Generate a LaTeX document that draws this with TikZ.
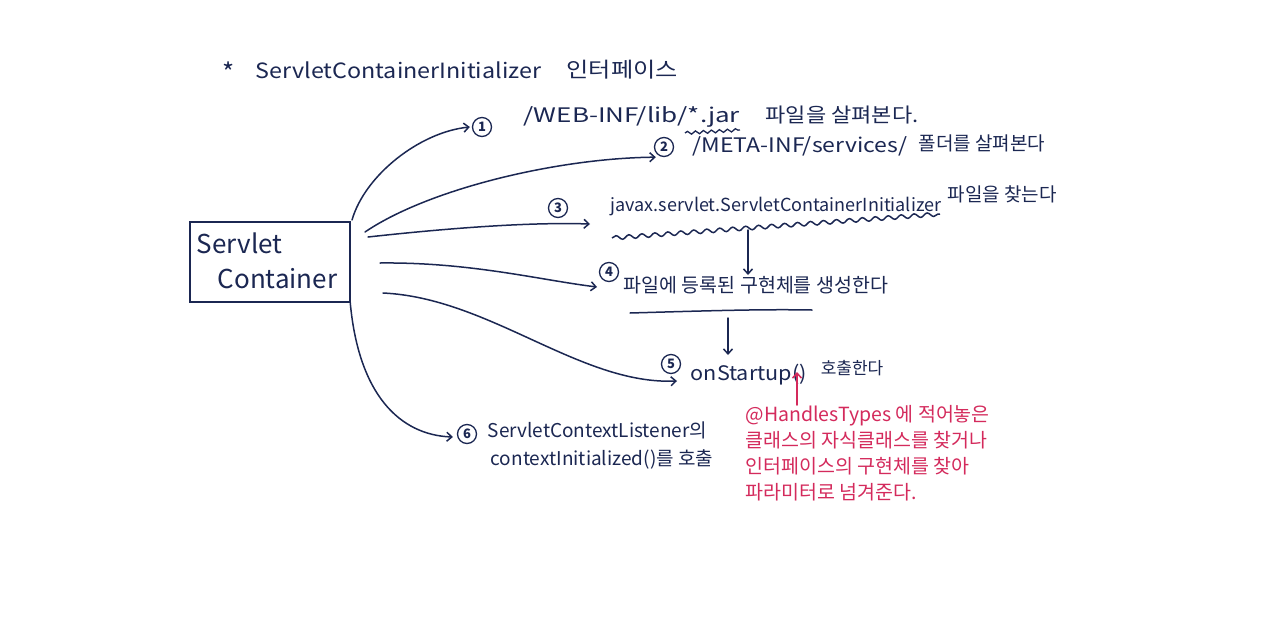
\documentclass[tikz,border=0pt]{standalone}
\usepackage{graphicx}
\usepackage{fontspec}
\setmainfont{Noto Sans CJK KR}
\usetikzlibrary{arrows.meta,decorations.pathmorphing,calc}
\definecolor{ink}{HTML}{1B2752}
\definecolor{pen}{HTML}{D42A5C}
\newcommand{\fs}[1]{\fontsize{#1}{#1}\selectfont}
\begin{document}
\begin{tikzpicture}[x=1pt,y=-1pt,line width=1.5pt,draw=ink,
  every node/.style={inner sep=0pt,text=ink},
  txt/.style={anchor=west,font=\fs{20}},
  arr/.style={-{Straight Barb[length=5pt,width=9pt]},line cap=round},
  num/.style={circle,draw=ink,line width=1.3pt,minimum size=19pt,inner sep=0pt,font=\fs{13}\bfseries},
  redtxt/.style={anchor=north west,align=left,text=pen,font=\fontsize{19.5}{26}\selectfont},
  wavy/.style={decorate,decoration={snake,amplitude=2pt,segment length=13pt}}]
\path[use as bounding box,fill=white] (0,0) rectangle (1280,635);

% title
\node[txt,font=\fs{26}] (star) at (222,72) {*};
\node[txt,font=\fs{21}] (title) at (255,70) {\scalebox{1.11}[1]{ServletContainerInitializer}};
\node[txt,font=\fs{21}] (titlekr) at (566,70) {\scalebox{1.15}[1]{인터페이스}};

% servlet container box
\node[draw=ink,minimum width=160pt,minimum height=80pt] (sc) at (270,262) {};
\node[anchor=north west,align=left,font=\fontsize{26}{35}\selectfont] (sclbl) at (196,232) {Servlet\\\hspace{21pt}Container};

% start points
\coordinate (s1) at (352,220);
\coordinate (s2) at (365,232);
\coordinate (s3) at (368,237);
\coordinate (s4) at (380,263);
\coordinate (s5) at (383,293);
\coordinate (s6) at (350,300);

% numbered items
\node[num] (n1) at (482,127) {1};
\node[txt] (t1) at (523,117) {\scalebox{1.3}[1]{/WEB-INF/lib/*.jar}};
\node[txt] (t1kr) at (765,115) {\scalebox{1.1}[1]{파일을 살펴본다.}};
\node[num] (n2) at (664,147) {2};
\node[txt] (t2) at (692,146) {\scalebox{1.15}[1]{/META-INF/services/}};
\node[txt,font=\fs{19}] (t2kr) at (918,143) {폴더를 살펴본다};
\node[num] (n3) at (558,208) {3};
\node[txt,font=\fs{18}] (t3) at (610,207) {javax.servlet.ServletContainerInitializer};
\node[txt,font=\fs{19}] (t3kr) at (947,194) {파일을 찾는다};
\node[num] (n4) at (609,272) {4};
\node[txt,font=\fs{19.5}] (t4) at (623,285) {파일에 등록된 구현체를 생성한다};
\node[num] (n5) at (671,364) {5};
\node[txt] (t5) at (690,375) {\scalebox{1.08}[1]{onStartup()}};
\node[txt,font=\fs{17}] (t5kr) at (820,368) {호출한다};
\node[num] (n6) at (467,434) {6};
\node[txt,anchor=north west,align=left,font=\fontsize{19}{28}\selectfont] (t6) at (487,421) {ServletContextListener의\\\hspace{3pt}contextInitialized()를 호출};

% red note
\node[redtxt] (note) at (745,405) {@HandlesTypes 에 적어놓은\\클래스의 자식클래스를 찾거나\\인터페이스의 구현체를 찾아\\파라미터로 넘겨준다.};

% connectors from the container
\draw[arr] (s1) .. controls (365,175) and (420,132) .. ($(n1.west)+(-2,0)$);
\draw[arr] (s2) .. controls (430,188) and (560,158) .. ($(n2.south west)+(-1,3)$);
\draw[arr] (s3) .. controls (450,228) and (530,222) .. ($(t3.west)+(-20,17)$);
\draw[arr] (s4) .. controls (470,262) and (540,280) .. ($(t4.west)+(-26,2)$);
\draw[arr] (s5) .. controls (490,298) and (580,385) .. ($(t5.west)+(-13,6)$);
\draw[arr] (s6) .. controls (358,395) and (400,435) .. ($(n6.west)+(-4,3)$);

% squiggles and underlines
\coordinate (w1a) at (685,133); \coordinate (w1b) at (740,130);
\draw[wavy,line width=1.3pt,decoration={snake,amplitude=1.5pt,segment length=8pt}] (w1a) -- (w1b);
\coordinate (w3a) at (612,238); \coordinate (w3b) at (940,214);
\draw[wavy] (w3a) -- (w3b);
\coordinate (u4a) at (630,313); \coordinate (u4b) at (812,310);
\draw[line cap=round] (u4a) .. controls (700,311) and (760,309) .. (u4b);

% downward arrows
\coordinate (d1) at (748,230);
\draw[arr] (d1) -- (748,275);
\coordinate (d2) at (728,318);
\draw[arr] (d2) -- (728,355);
\coordinate (r1) at (797,405);
\draw[arr,draw=pen] (r1) -- (797,372);
\end{tikzpicture}
\end{document}
